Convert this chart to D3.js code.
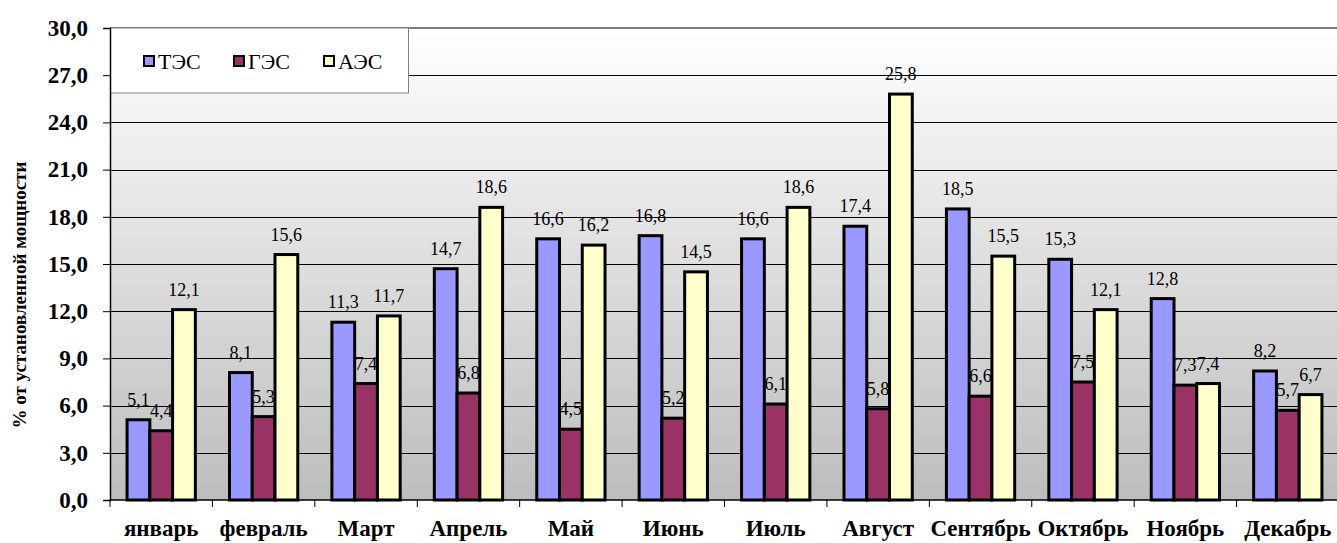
<!DOCTYPE html>
<html>
<head>
<meta charset="utf-8">
<script src="https://cdn.jsdelivr.net/npm/d3@7/dist/d3.min.js"></script>
<style>
  html, body { margin: 0; padding: 0; background: #ffffff; }
  svg text { font-family: "Liberation Serif", "Times New Roman", serif; }
</style>
</head>
<body>
<svg id="chart" width="1337" height="543"></svg>
<script>
// Monthly utilisation by plant type, % of installed capacity
const months = ["январь", "февраль", "Март", "Апрель", "Май", "Июнь", "Июль", "Август", "Сентябрь", "Октябрь", "Ноябрь", "Декабрь"];
const seriesNames = ["ТЭС", "ГЭС", "АЭС"];
const tesValues = [5.1, 8.1, 11.3, 14.7, 16.6, 16.8, 16.6, 17.4, 18.5, 15.3, 12.8, 8.2];
const gesValues = [4.4, 5.3, 7.4, 6.8, 4.5, 5.2, 6.1, 5.8, 6.6, 7.5, 7.3, 5.7];
const aesValues = [12.1, 15.6, 11.7, 18.6, 16.2, 14.5, 18.6, 25.8, 15.5, 12.1, 7.4, 6.7];
const yTicks = [0, 3, 6, 9, 12, 15, 18, 21, 24, 27, 30];
const yTitle = "% от установленной мощности";

const colors = { "ТЭС": "#9999ff", "ГЭС": "#993366", "АЭС": "#ffffcc" };
const valuesBySeries = { "ТЭС": tesValues, "ГЭС": gesValues, "АЭС": aesValues };
const serif = "'Liberation Serif', 'Times New Roman', serif";

const svg = d3.select("#chart");
const plot = { left: 110, right: 1339, top: 28, bottom: 500 };

const x0 = d3.scaleBand().domain(months).range([plot.left, plot.right]).padding(0);
const x1 = d3.scaleBand().domain(seriesNames).range([0, x0.bandwidth()])
  .paddingInner(0).paddingOuter(0.75);
const y = d3.scaleLinear().domain([0, 30]).range([plot.bottom, plot.top]);

const fmt = v => d3.format(".1f")(v).replace(".", ",");

// plot background gradient
const defs = svg.append("defs");
const grad = defs.append("linearGradient").attr("id", "bg")
  .attr("x1", 0).attr("y1", 0).attr("x2", 0).attr("y2", 1);
grad.append("stop").attr("offset", "0%").attr("stop-color", "#ffffff");
grad.append("stop").attr("offset", "100%").attr("stop-color", "#bdbdbd");

svg.append("rect")
  .attr("x", plot.left).attr("y", plot.top)
  .attr("width", plot.right - plot.left).attr("height", plot.bottom - plot.top)
  .attr("fill", "url(#bg)");

// gridlines
svg.append("g").selectAll("line").data(yTicks.filter(t => t > 0 && t < 30)).join("line")
  .attr("x1", plot.left).attr("x2", plot.right)
  .attr("y1", d => Math.round(y(d)) + 0.5).attr("y2", d => Math.round(y(d)) + 0.5)
  .attr("stroke", "#000").attr("stroke-width", 1);

// top border of plot area
svg.append("line")
  .attr("x1", plot.left).attr("x2", plot.right)
  .attr("y1", plot.top).attr("y2", plot.top)
  .attr("stroke", "#808080").attr("stroke-width", 2);

// legend box (covers gridlines under it)
const legend = svg.append("g");
legend.append("rect")
  .attr("x", plot.left + 0.5).attr("y", plot.top)
  .attr("width", 298).attr("height", 65)
  .attr("fill", "#ffffff").attr("stroke", "#808080").attr("stroke-width", 1);
const legendX = [143, 233, 323];
seriesNames.forEach((s, i) => {
  legend.append("rect")
    .attr("x", legendX[i] + 1).attr("y", 56)
    .attr("width", 10).attr("height", 10)
    .attr("fill", colors[s]).attr("stroke", "#000").attr("stroke-width", 2);
  legend.append("text")
    .attr("x", legendX[i] + 15).attr("y", 69)
    .attr("font-family", serif)
    .attr("font-size", 22).attr("fill", "#000")
    .text(s);
});

// bars
const groups = svg.append("g").selectAll("g").data(months).join("g")
  .attr("transform", d => `translate(${x0(d)},0)`);

groups.selectAll("rect")
  .data((m, i) => seriesNames.map(s => ({ s, v: valuesBySeries[s][i] })))
  .join("rect")
  .attr("x", d => x1(d.s))
  .attr("y", d => y(d.v))
  .attr("width", x1.bandwidth())
  .attr("height", d => y(0) - y(d.v))
  .attr("fill", d => colors[d.s])
  .attr("stroke", "#000").attr("stroke-width", 3);

// value labels
groups.selectAll("text")
  .data((m, i) => seriesNames.map(s => ({ s, v: valuesBySeries[s][i] })))
  .join("text")
  .attr("x", d => x1(d.s) + x1.bandwidth() / 2)
  .attr("y", d => y(d.v) - 14)
  .attr("text-anchor", "middle")
  .attr("font-family", serif)
  .attr("font-size", 18).attr("fill", "#000")
  .text(d => fmt(d.v));

// y axis
const yAxis = d3.axisLeft(y).tickValues(yTicks).tickSize(7).tickPadding(15).tickFormat(fmt);
const yG = svg.append("g").attr("transform", `translate(${plot.left},0)`).call(yAxis)
  .attr("font-family", serif);
yG.select(".domain").attr("stroke", "#000").attr("stroke-width", 1.5);
yG.selectAll(".tick line").attr("stroke", "#000");
yG.selectAll(".tick text")
  .attr("font-size", 23).attr("font-weight", "bold").attr("fill", "#000");

// x axis: ticks at category boundaries
const xG = svg.append("g");
xG.append("line")
  .attr("x1", plot.left).attr("x2", plot.right)
  .attr("y1", plot.bottom).attr("y2", plot.bottom)
  .attr("stroke", "#000").attr("stroke-width", 1.5);
xG.selectAll("line.tk").data(months).join("line").attr("class", "tk")
  .attr("x1", d => x0(d)).attr("x2", d => x0(d))
  .attr("y1", plot.bottom).attr("y2", plot.bottom + 7)
  .attr("stroke", "#000");
xG.selectAll("text").data(months).join("text")
  .attr("x", d => x0(d) + x0.bandwidth() / 2)
  .attr("y", 536)
  .attr("text-anchor", "middle")
  .attr("font-family", serif)
  .attr("font-size", 23).attr("font-weight", "bold").attr("fill", "#000")
  .text(d => d);

// y axis title
svg.append("text")
  .attr("transform", "translate(26,295) rotate(-90)")
  .attr("text-anchor", "middle")
  .attr("font-family", serif)
  .attr("font-size", 19).attr("font-weight", "bold").attr("fill", "#000")
  .text(yTitle);
</script>
</body>
</html>
